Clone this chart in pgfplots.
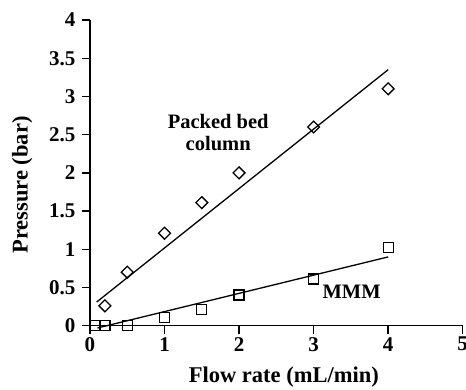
\documentclass[border=0pt]{standalone}
\usepackage{fontspec}
\setmainfont{Liberation Serif}
\usepackage{pgfplots}
\pgfplotsset{compat=1.18}
\begin{document}
\begin{tikzpicture}
\begin{axis}[
  at={(0,0)}, anchor=south west,
  scale only axis, width=372.7pt, height=305.7pt,
  xmin=0, xmax=5, ymin=0, ymax=4,
  axis x line*=bottom, axis y line*=left,
  axis line style={line width=1.4pt, -},
  xtick={0,1,2,3,4,5},
  ytick={0,0.5,1,1.5,2,2.5,3,3.5,4},
  yticklabels={0,0.5,1,1.5,2,2.5,3,3.5,4},
  tick align=outside, major tick length=8pt,
  tick style={line width=1.4pt, black},
  ticklabel style={font=\fontsize{21}{24}\selectfont\bfseries},
  yticklabel style={xshift=-3pt},
  /pgf/number format/assume math mode=true,
  xlabel={Flow rate (mL/min)}, ylabel={Pressure (bar)},
  label style={font=\fontsize{22.5}{26}\selectfont\bfseries},
  xlabel style={at={(axis description cs:0.52,-0.167)}, anchor=center},
  ylabel style={at={(axis description cs:-0.182,0.46)}, anchor=center},
  clip=false,
]
% Packed bed column data
\addplot[only marks, mark=square, mark size=4.2pt, mark options={rotate=45, line width=1.3pt, fill=white}] coordinates {
  (0.2,0.26) (0.5,0.70) (1,1.21) (1.5,1.61) (2,2.00) (3,2.60) (4,3.10)
};
\addplot[line width=1.3pt, no marks] coordinates {(0.09,0.31) (4,3.35)};
% MMM data
\addplot[line width=1.3pt, no marks] coordinates {(0.1,-0.03) (4,0.90)};
\addplot[only marks, mark=square, mark size=5pt, mark options={line width=1.3pt, fill=white}] coordinates {
  (0.07,0) (0.2,0) (0.5,0) (1,0.11) (1.5,0.21) (2,0.40) (3,0.61) (4,1.02)
};
\node[align=center, font=\fontsize{20.5}{22}\selectfont\bfseries] at (axis cs:1.72,2.53) {Packed bed\\column};
\node[font=\fontsize{20.5}{22}\selectfont\bfseries] at (axis cs:3.51,0.445) {MMM};
\end{axis}
\pgfresetboundingbox
\useasboundingbox (-90pt,-63.3pt) rectangle (376pt,325.7pt);
\end{tikzpicture}
\end{document}
